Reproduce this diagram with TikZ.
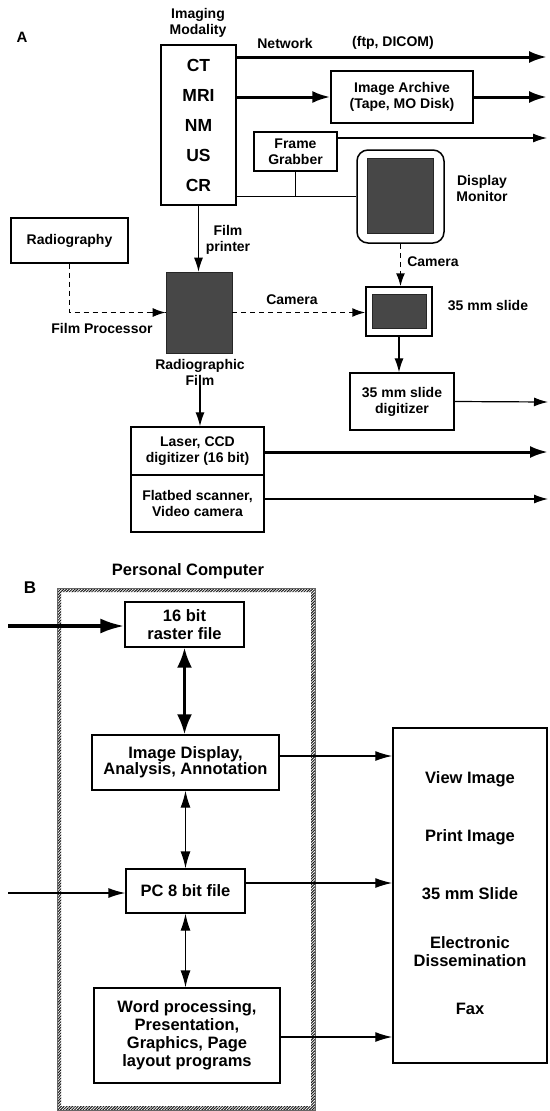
\documentclass[tikz,border=0pt]{standalone}
\usepackage{fontspec}
\setmainfont{Liberation Sans}
\usetikzlibrary{arrows.meta,patterns.meta}
\begin{document}
\begin{tikzpicture}[x=1pt,y=-1pt,
  fa/.style={font=\fontsize{14}{16}\selectfont\bfseries, align=center, inner sep=0pt},
  fb/.style={font=\fontsize{16.5}{18}\selectfont\bfseries, align=center, inner sep=0pt},
  box/.style={draw, line width=1.3pt, inner sep=0pt, align=center},
  dark/.style={fill=black!72, draw=black!85, line width=0.6pt, inner sep=0pt},
  thinarr/.style={line width=1.2pt, -{Latex[length=14pt,width=9pt]}},
  thickarr/.style={line width=3pt, -{Latex[length=18pt,width=12pt]}},
  dasharr/.style={line width=1.5pt, dash pattern=on 5pt off 4pt, -{Latex[length=13pt,width=9pt]}},
  dashline/.style={line width=1.5pt, dash pattern=on 5pt off 4pt},
  plain/.style={line width=1.2pt},
  thickdbl/.style={line width=3pt, {Latex[length=20pt,width=15pt]}-{Latex[length=20pt,width=15pt]}},
  thindbl/.style={line width=1.3pt, {Latex[length=17pt,width=10pt]}-{Latex[length=17pt,width=10pt]}},
  bthin/.style={line width=1.3pt, -{Latex[length=17pt,width=10pt]}},
  bthick/.style={line width=3.5pt, -{Latex[length=24pt,width=15pt]}},
]
\useasboundingbox (0,0) rectangle (549,1111);

% ---------------- Part A ----------------
\node[fa, font=\fontsize{15}{16}\selectfont\bfseries] (labA) at (22,37) {A};
\node[fa] (modlbl) at (198,23) {Imaging\\Modality};
\node[box, minimum width=75pt, minimum height=160pt, font=\fontsize{17.5}{30}\selectfont\bfseries] (mod) at (198.5,125) {CT\\MRI\\NM\\US\\CR};

\node[fa] (netlbl) at (285,43) {Network};
\node[fa] (ftplbl) at (393,43) {(ftp, DICOM)};
\coordinate (netend) at (547,57);
\draw[thickarr] (mod.east |- netend) -- (netend);

\node[box, fa, minimum width=142pt, minimum height=52pt] (arch) at (402,97) {Image Archive\\(Tape, MO Disk)};
\draw[thickarr] (mod.east |- arch.west) -- (arch.west);
\coordinate (archend) at (547,97);
\draw[thickarr] (arch.east) -- (archend);

\node[box, fa, minimum width=83pt, minimum height=39pt] (fg) at (295.5,151.5) {Frame\\Grabber};
\coordinate (fgend) at (547,138);
\draw[thinarr] (fg.east |- fgend) -- (fgend);

\node[draw, line width=1.5pt, rounded corners=11pt, minimum width=87pt, minimum height=93pt, inner sep=0pt] (mon) at (400.5,196.5) {};
\node[dark, minimum width=66pt, minimum height=75pt] (monscr) at (400,195.5) {};
\node[fa] (monlbl) at (482,188) {Display\\Monitor};
\draw[plain] (mod.east |- mon.west) -- (mon.west);
\draw[plain] (fg.south) -- (fg.south |- mon.west);

\node[draw, line width=1.5pt, minimum width=66pt, minimum height=49pt, inner sep=0pt] (slide) at (399,311.5) {};
\node[dark, minimum width=54pt, minimum height=34pt] (slidein) at (399,311) {};
\node[fa] (slidelbl) at (488,306) {35 mm slide};
\draw[dasharr] (mon.south) -- (mon.south |- slide.north);
\node[fa] (cam1) at (433,262) {Camera};

\node[box, fa, minimum width=104pt, minimum height=57pt] (sdig) at (402,401.5) {35 mm slide\\digitizer};
\draw[thinarr] (slide.south) -- (slide.south |- sdig.north);
\coordinate (sdigend) at (548,402);
\draw[thinarr] (sdig.east) -- (sdigend);

\node[box, fa, minimum width=117pt, minimum height=45pt] (rad) at (69.5,240.5) {Radiography};
\node[dark, minimum width=66pt, minimum height=81pt] (film) at (199,312.5) {};
\draw[thinarr] (mod.south) -- (mod.south |- film.north);
\node[fa] (fplbl) at (228,240) {Film\\printer};
\draw[dashline] (rad.south) |- (film.west);
\draw[dasharr] ([xshift=-14pt]film.west) -- (film.west);
\node[fa] (fproc) at (102,328) {Film Processor};
\draw[dasharr] (film.east) -- (film.east -| slide.west);
\node[fa] (cam2) at (292,300) {Camera};
\node[fa] (filmlbl) at (200,372) {Radiographic\\Film};

\node[box, fa, minimum width=133pt, minimum height=48pt] (laser) at (197.5,451) {Laser, CCD\\digitizer (16 bit)};
\node[box, fa, minimum width=133pt, minimum height=57pt] (flat) at (197.5,503.5) {Flatbed scanner,\\Video camera};
\draw[thinarr] (filmlbl.south) -- (filmlbl.south |- laser.north);
\coordinate (laserend) at (548,452);
\draw[thickarr] (laser.east |- laserend) -- (laserend);
\coordinate (flatend) at (548,499);
\draw[thinarr] (flat.east |- flatend) -- (flatend);

% ---------------- Part B ----------------
\node[fb, font=\fontsize{17}{18}\selectfont\bfseries] (labB) at (30,588) {B};
\node[fb] (pclbl) at (188,571) {Personal Computer};
\fill[pattern={Lines[angle=45,distance=2pt,line width=1pt]}, pattern color=black!90, even odd rule]
  (57,588) rectangle (315,1110) (61,592) rectangle (311,1106);
\draw[black!60, line width=0.4pt] (57,588) rectangle (315,1110);

\node[box, fb, minimum width=119pt, minimum height=45pt] (rast) at (184.5,624.5) {16 bit\\raster file};
\node[box, fb, minimum width=187pt, minimum height=55pt, font=\fontsize{16.5}{16}\selectfont\bfseries] (disp) at (185.5,762.5) {Image Display,\\Analysis, Annotation};
\node[box, fb, minimum width=119pt, minimum height=44pt] (pc) at (185.5,891) {PC 8 bit file};
\node[box, fb, minimum width=186pt, minimum height=95pt] (word) at (187,1035.5) {Word processing,\\Presentation,\\Graphics, Page\\layout programs};

\coordinate (rastin) at (8,626);
\draw[bthick] (rastin) -- (rastin -| rast.west);
\coordinate (pcin) at (8,893);
\draw[bthin] (pcin) -- (pcin -| pc.west);
\draw[thickdbl] (rast.south) -- (rast.south |- disp.north);
\draw[thindbl] (disp.south) -- (disp.south |- pc.north);
\draw[thindbl] (pc.south) -- (pc.south |- word.north);

\node[draw, line width=1.5pt, minimum width=154pt, minimum height=335pt, inner sep=0pt] (out) at (470,895.5) {};
\node[fb] (o1) at (470,779) {View Image};
\node[fb] (o2) at (470,837) {Print Image};
\node[fb] (o3) at (470,894) {35 mm Slide};
\node[fb] (o4) at (470,952) {Electronic\\Dissemination};
\node[fb] (o5) at (470,1009) {Fax};

\draw[bthin] ([yshift=6.5pt]disp.east) -- ([yshift=6.5pt]disp.east -| out.west);
\draw[bthin] ([yshift=8pt]pc.east) -- ([yshift=8pt]pc.east -| out.west);
\draw[bthin] ([yshift=-1.5pt]word.east) -- ([yshift=-1.5pt]word.east -| out.west);
\end{tikzpicture}
\end{document}
